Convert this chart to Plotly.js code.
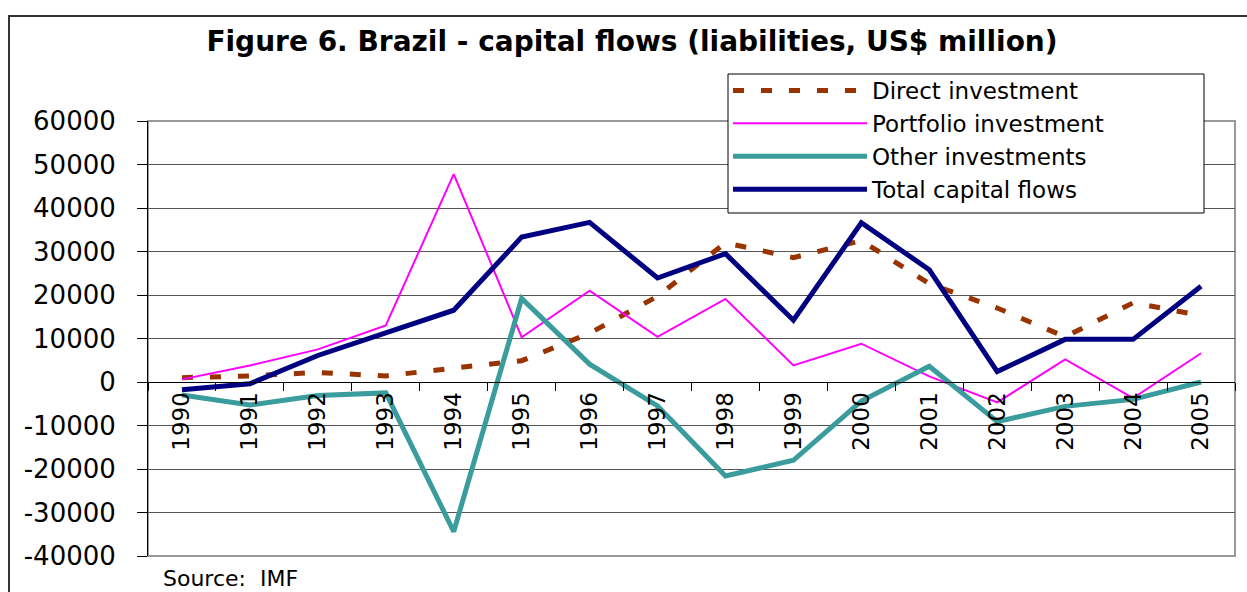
<!DOCTYPE html>
<html><head><meta charset="utf-8">
<script src="https://cdn.plot.ly/plotly-3.0.1.min.js"></script>
<style>html,body{margin:0;padding:0;background:#fff;overflow:hidden}</style>
</head><body>
<div id="chart" style="width:1247px;height:592px"></div>
<script>
const years = ['1990','1991','1992','1993','1994','1995','1996','1997','1998','1999','2000','2001','2002','2003','2004','2005'];
const directInvestment    = [1000, 1400, 2200, 1400, 3200, 4900, 11200, 19700, 32000, 28600, 32500, 22600, 17000, 10400, 18200, 15300];
const portfolioInvestment = [600, 3800, 7500, 13000, 47800, 10300, 21000, 10400, 19100, 3800, 8800, 1300, -4700, 5200, -3700, 6600];
const otherInvestments    = [-3000, -5300, -3100, -2500, -34400, 19200, 4100, -5500, -21600, -18000, -4400, 3600, -9100, -5600, -4000, 0];
const totalCapitalFlows   = [-1800, -400, 6100, 11300, 16500, 33300, 36700, 23900, 29500, 14200, 36600, 25800, 2400, 9800, 9800, 22000];
const seriesNames = ['Direct investment', 'Portfolio investment', 'Other investments', 'Total capital flows'];
const yTickVals = [60000, 50000, 40000, 30000, 20000, 10000, 0, -10000, -20000, -30000, -40000];
const yTickText = ['60000', '50000', '40000', '30000', '20000', '10000', '0', '-10000', '-20000', '-30000', '-40000'];
const titleText = 'Figure 6. Brazil - capital flows (liabilities, US$ million)';
const sourceText = 'Source:&nbsp; IMF';

const W = 1247, H = 592;
const L = 148, R = 1235, T = 121, B = 556;
const px2x = p => (p - L) / (R - L);
const px2y = p => (B - p) / (B - T);

const traces = [
  {x: years, y: directInvestment, name: seriesNames[0], type: 'scatter', mode: 'lines',
   line: {color: '#993300', width: 5, dash: '11px,17px'}},
  {x: years, y: portfolioInvestment, name: seriesNames[1], type: 'scatter', mode: 'lines',
   line: {color: '#FF00FF', width: 2}},
  {x: years, y: otherInvestments, name: seriesNames[2], type: 'scatter', mode: 'lines',
   line: {color: '#3A9C9C', width: 5}},
  {x: years, y: totalCapitalFlows, name: seriesNames[3], type: 'scatter', mode: 'lines',
   line: {color: '#000080', width: 5}}
];

const layout = {
  width: W, height: H,
  margin: {l: L, r: W - R, t: T, b: H - B, pad: 0},
  paper_bgcolor: '#ffffff', plot_bgcolor: '#ffffff',
  font: {family: 'DejaVu Sans', color: '#000000'},
  showlegend: true,
  title: {text: titleText, font: {family: 'DejaVu Sans', size: 28, weight: 'bold', color: '#000'},
          xref: 'container', x: 632 / W, xanchor: 'center', yref: 'container', y: 1 - 41 / H, yanchor: 'middle'},
  xaxis: {type: 'category', anchor: 'free', position: 0.4, tickangle: -90, ticks: 'outside', ticklen: 8,
          tickson: 'boundaries', tickcolor: '#000', showline: true, linecolor: '#000', linewidth: 1,
          showgrid: false, zeroline: false, tickfont: {size: 23, color: '#000'}, range: [-0.5, 15.5]},
  yaxis: {range: [-40000, 60000], tickmode: 'array', tickvals: yTickVals, ticktext: yTickText,
          ticks: 'outside', ticklen: 10, tickcolor: '#000', showline: true, linecolor: '#000', linewidth: 1,
          showgrid: true, gridcolor: '#555555', gridwidth: 1, zeroline: false,
          tickfont: {size: 26, color: '#000'}, ticklabelstandoff: 16},
  legend: {x: px2x(728), y: px2y(69), xanchor: 'left', yanchor: 'top', bgcolor: 'rgba(0,0,0,0)',
           borderwidth: 0, font: {size: 23, color: '#000'}, itemwidth: 134,
           tracegroupgap: 0, traceorder: 'normal'},
  shapes: [
    {type: 'rect', xref: 'paper', yref: 'paper', x0: 0, x1: 1, y0: 0, y1: 1, layer: 'below',
     line: {color: '#999999', width: 2}},
    {type: 'rect', xref: 'paper', yref: 'paper', x0: px2x(9), x1: px2x(1260), y0: px2y(605), y1: px2y(16),
     layer: 'below', line: {color: '#333333', width: 2}},
    {type: 'rect', xref: 'paper', yref: 'paper', x0: px2x(728), x1: px2x(1204), y0: px2y(213), y1: px2y(74),
     layer: 'above', fillcolor: '#ffffff', line: {color: '#000000', width: 1}}
  ],
  annotations: [
    {text: sourceText, xref: 'paper', yref: 'paper', x: px2x(161), y: px2y(578), xanchor: 'left', yanchor: 'middle',
     showarrow: false, font: {size: 22, color: '#000'}}
  ]
};

Plotly.newPlot('chart', traces, layout, {displayModeBar: false, staticPlot: true});
</script>
</body></html>
